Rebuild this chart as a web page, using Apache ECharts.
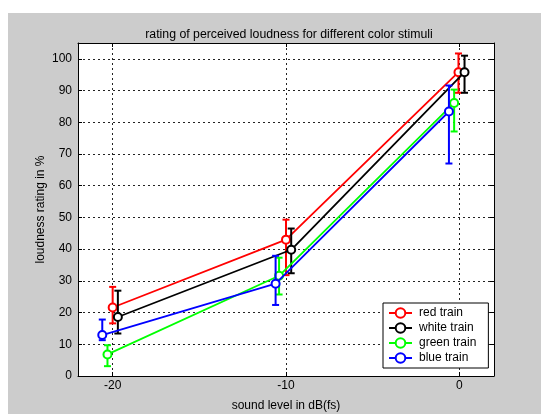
<!DOCTYPE html>
<html>
<head>
<meta charset="utf-8">
<script src="https://cdn.jsdelivr.net/npm/echarts@6/dist/echarts.min.js"></script>
<style>
  html, body { margin: 0; padding: 0; background: #ffffff; }
  #wrap { position: absolute; left: 0; top: 0; width: 541px; height: 414px; background: #ffffff; }
  #chart { position: absolute; left: 8px; top: 13px; width: 533px; height: 401px; background: #cccccc; }
</style>
</head>
<body>
<div id="wrap"><div id="chart"></div></div>
<script>
// ---- data ----
const xTicks = [-20, -10, 0];
const yTicks = [0, 10, 20, 30, 40, 50, 60, 70, 80, 90, 100];

const seriesNames = ['red train', 'white train', 'green train', 'blue train'];

const redX   = [-20.0, -10.0, -0.05];
const redY   = [21.6, 43.0, 95.8];
const redLo  = [16.6, 31.8, 89.3];
const redHi  = [28.1, 49.3, 101.7];

const whiteX  = [-19.7, -9.7, 0.3];
const whiteY  = [18.6, 39.8, 95.8];
const whiteLo = [13.4, 32.4, 89.3];
const whiteHi = [26.9, 46.5, 101.0];

const greenX  = [-20.3, -10.4, -0.3];
const greenY  = [6.8, 31.6, 86.1];
const greenLo = [3.1, 25.7, 77.1];
const greenHi = [9.7, 37.3, 90.3];

const blueX  = [-20.6, -10.6, -0.6];
const blueY  = [12.9, 29.1, 83.4];
const blueLo = [11.3, 22.4, 67.0];
const blueHi = [17.8, 37.9, 91.6];

const colors = ['#ff0000', '#000000', '#00ff00', '#0000ff'];

const groups = [
  [redX, redY, redLo, redHi],
  [whiteX, whiteY, whiteLo, whiteHi],
  [greenX, greenY, greenLo, greenHi],
  [blueX, blueY, blueLo, blueHi]
];

const FONT = 'Liberation Sans, Arial, sans-serif';

function makeErr(color) {
  return function (params, api) {
    const x = api.value(0), lo = api.value(1), hi = api.value(2);
    const pLo = api.coord([x, lo]);
    const pHi = api.coord([x, hi]);
    const w = 3.5;
    const st = { stroke: color, lineWidth: 2 };
    return {
      type: 'group',
      children: [
        { type: 'line', shape: { x1: pLo[0], y1: pLo[1], x2: pHi[0], y2: pHi[1] }, style: st },
        { type: 'line', shape: { x1: pLo[0] - w, y1: pLo[1], x2: pLo[0] + w, y2: pLo[1] }, style: st },
        { type: 'line', shape: { x1: pHi[0] - w, y1: pHi[1], x2: pHi[0] + w, y2: pHi[1] }, style: st }
      ]
    };
  };
}

const series = [];
groups.forEach(function (g, i) {
  const [gx, gy, glo, ghi] = g;
  series.push({
    name: seriesNames[i] + ' err',
    type: 'custom',
    renderItem: makeErr(colors[i]),
    encode: { x: 0, y: [1, 2] },
    data: gx.map(function (v, k) { return [v, glo[k], ghi[k]]; }),
    z: 2 + i * 2,
    silent: true
  });
  series.push({
    name: seriesNames[i],
    type: 'line',
    data: gx.map(function (v, k) { return [v, gy[k]]; }),
    symbol: 'emptyCircle',
    symbolSize: 8,
    showSymbol: true,
    lineStyle: { color: colors[i], width: 1.8 },
    itemStyle: { color: colors[i], borderColor: colors[i], borderWidth: 1.6 },
    z: 3 + i * 2,
    animation: false
  });
});

const splitStyle = { show: true, lineStyle: { color: '#222', type: [2, 3], width: 1 } };

const chart = echarts.init(document.getElementById('chart'), null, { renderer: 'canvas' });
chart.setOption({
  animation: false,
  backgroundColor: '#cccccc',
  title: {
    text: 'rating of perceived loudness for different color stimuli',
    left: 276, textAlign: 'center', top: 11,
    textStyle: { fontFamily: FONT, fontSize: 12.3, fontWeight: 'normal', color: '#000' }
  },
  legend: {
    data: seriesNames,
    orient: 'vertical',
    left: 375, top: 290,
    backgroundColor: '#ffffff',
    borderColor: '#000',
    borderWidth: 1,
    padding: [4, 12, 4, 5],
    itemGap: 3,
    itemWidth: 23,
    itemHeight: 12,
    textStyle: { fontFamily: FONT, fontSize: 12, color: '#000', padding: [0, 0, 0, 2] }
  },
  grid: { left: 70, top: 30, right: 47, bottom: 38, containLabel: false, outerBoundsMode: 'none', show: true, backgroundColor: '#ffffff', borderWidth: 0 },
  xAxis: [{
    type: 'value', min: -22, max: 2,
    name: 'sound level in dB(fs)', nameLocation: 'middle', nameGap: 24, nameMoveOverlap: false,
    nameTextStyle: { fontFamily: FONT, fontSize: 12, color: '#000' },
    axisLine: { show: true, onZero: false, lineStyle: { color: '#000', width: 1 } },
    axisTick: { show: true, inside: true, length: 4, customValues: xTicks, lineStyle: { color: '#000' } },
    axisLabel: { show: true, customValues: xTicks, margin: 4, fontFamily: FONT, fontSize: 12, color: '#000' },
    splitLine: splitStyle
  }, {
    type: 'value', min: -22, max: 2, position: 'top',
    axisLine: { show: true, onZero: false, lineStyle: { color: '#000', width: 1 } },
    axisTick: { show: true, inside: true, length: 4, customValues: xTicks, lineStyle: { color: '#000' } },
    axisLabel: { show: false },
    splitLine: { show: false }
  }],
  yAxis: [{
    type: 'value', min: 0, max: 105,
    name: 'loudness rating in %', nameLocation: 'middle', nameGap: 31, nameMoveOverlap: false,
    nameTextStyle: { fontFamily: FONT, fontSize: 12, color: '#000' },
    axisLine: { show: true, onZero: false, lineStyle: { color: '#000', width: 1 } },
    axisTick: { show: true, inside: true, length: 4, customValues: yTicks, lineStyle: { color: '#000' } },
    axisLabel: { show: true, customValues: yTicks, margin: 6, fontFamily: FONT, fontSize: 12, color: '#000' },
    splitLine: splitStyle
  }, {
    type: 'value', min: 0, max: 105, position: 'right',
    axisLine: { show: true, onZero: false, lineStyle: { color: '#000', width: 1 } },
    axisTick: { show: true, inside: true, length: 4, customValues: yTicks, lineStyle: { color: '#000' } },
    axisLabel: { show: false },
    splitLine: { show: false }
  }],
  series: series
});
</script>
</body>
</html>
